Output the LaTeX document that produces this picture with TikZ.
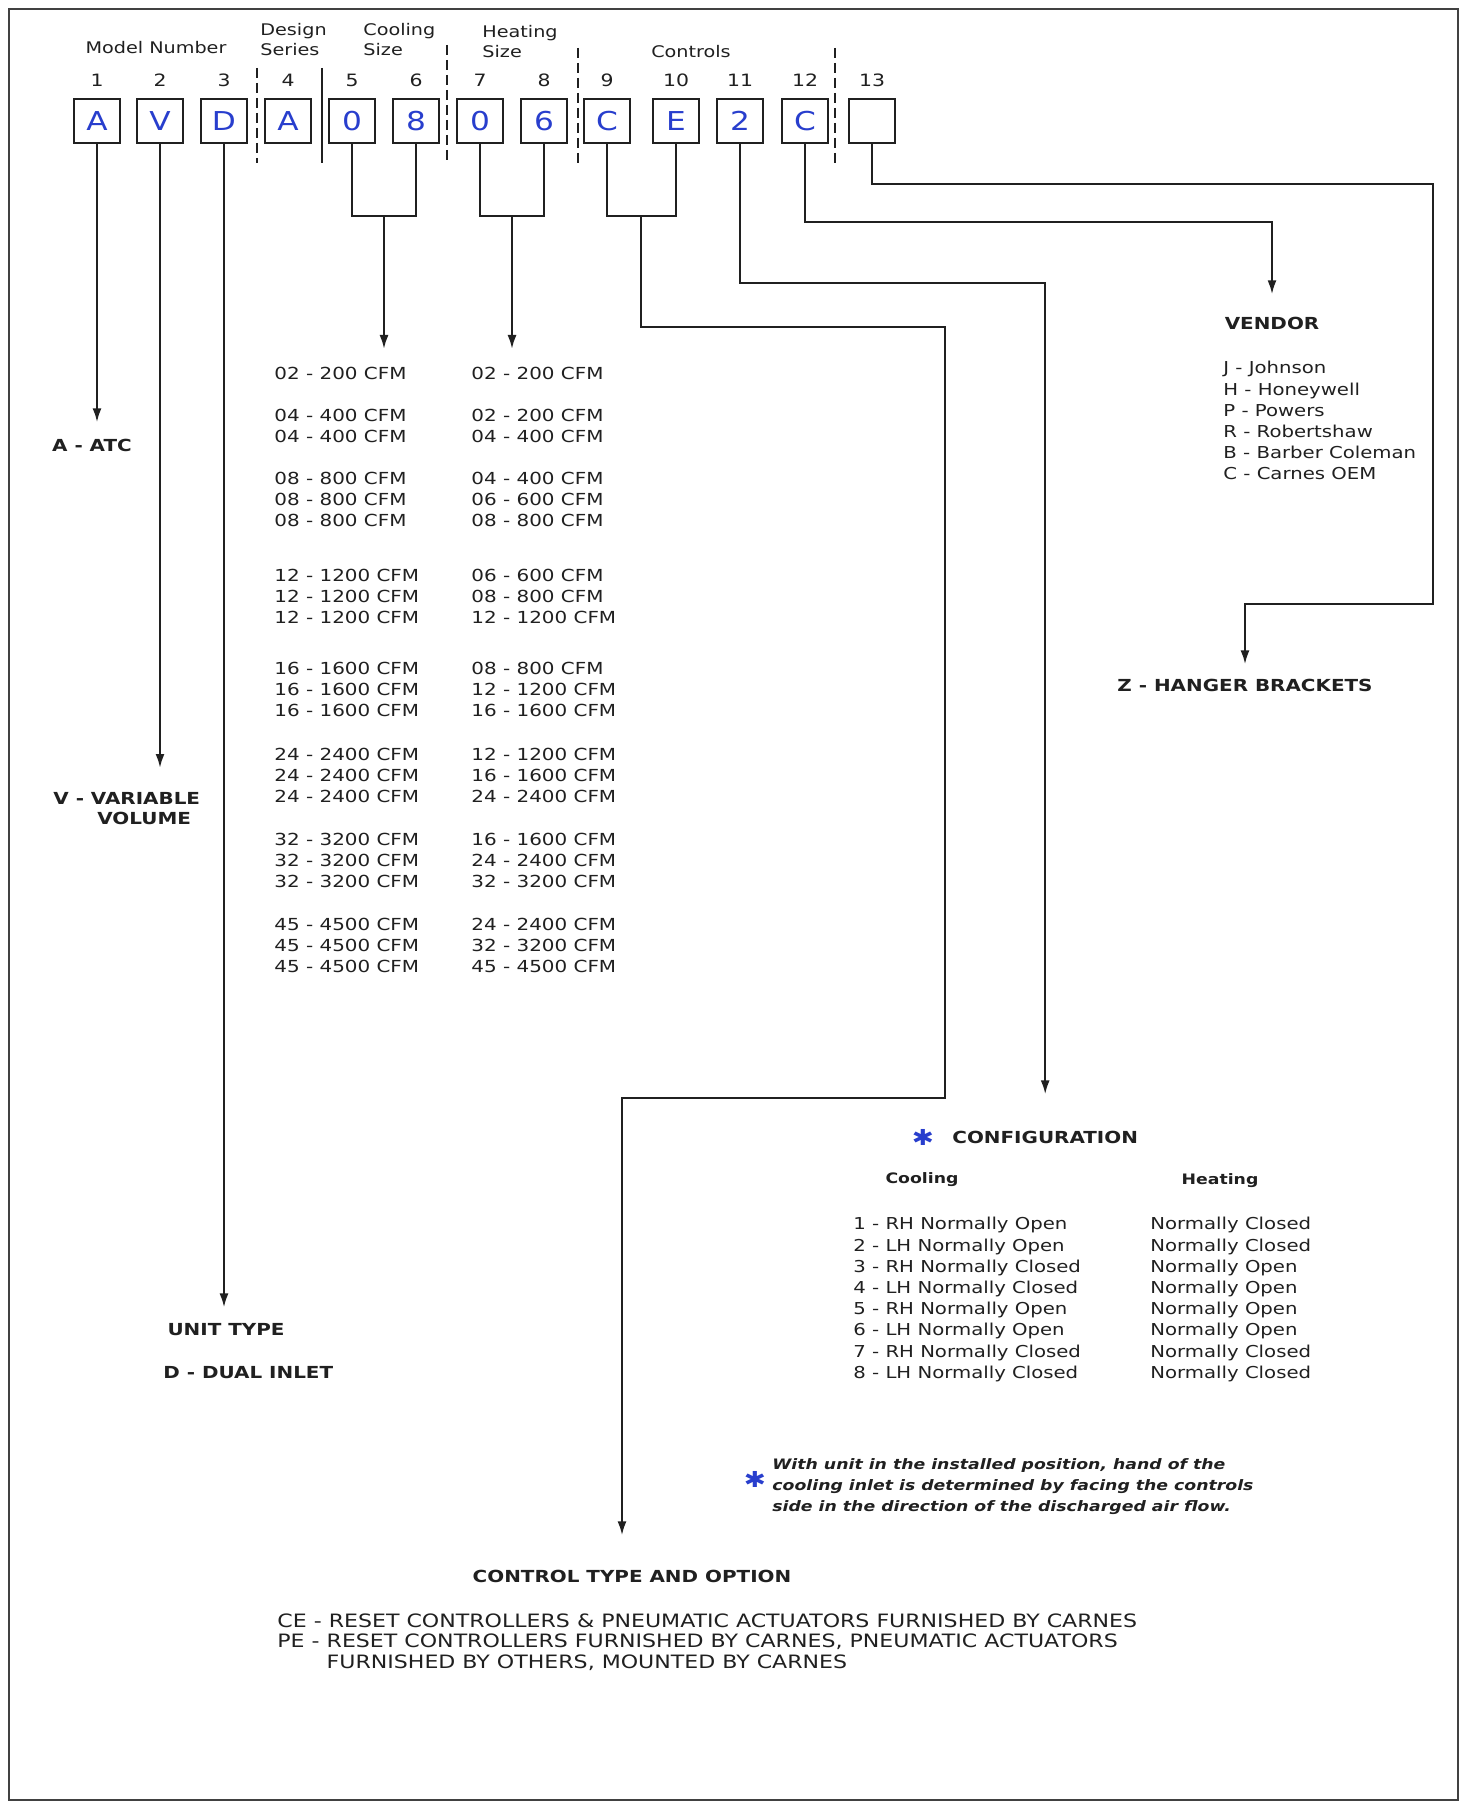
\documentclass[tikz,border=0pt]{standalone}
\usepackage{fontspec}
\setmainfont{DejaVu Sans}[FakeStretch=1.2]
\usetikzlibrary{arrows.meta}
\definecolor{ink}{RGB}{32,32,32}
\definecolor{codeblue}{RGB}{40,62,205}
\newcommand{\setsz}[2]{\fontsize{#1}{#2}\selectfont}

\begin{document}
\begin{tikzpicture}[
  x=0.5pt, y=-0.5pt,
  every node/.style={inner sep=0pt, text=ink},
  digit/.style={draw=ink, line width=1.2pt, minimum width=23pt, minimum height=22pt, text=codeblue, font=\setsz{13}{13}},
  num/.style={font=\setsz{8.5}{10}},
  head/.style={font=\setsz{8}{10}, align=left},
  lbl/.style={font=\bfseries\setsz{8.3}{10}},
  sub/.style={font=\bfseries\setsz{7.2}{9}},
  cfm/.style={font=\setsz{8.3}{10.5}, align=left},
  rows/.style={font=\setsz{8.2}{10.6}, align=left},
  note/.style={font=\bfseries\itshape\setsz{7.2}{10.5}, align=left},
  ctxt/.style={font=\setsz{9.2}{10.25}, align=left},
  star/.style={text=codeblue, font=\setsz{11}{11}},
  conn/.style={draw=ink, line width=1.1pt},
  arr/.style={conn, -{Latex[length=7pt,width=4.5pt]}},
  sep/.style={draw=ink, line width=1pt, dash pattern=on 5pt off 2.5pt}
]
\fill[white] (0,0) rectangle (1465,1807);
\useasboundingbox (0,0) rectangle (1465,1807);
\draw[line width=1.3pt, draw=ink!85] (9,9) rectangle (1458,1800);

% code boxes and position numbers
\foreach \x/\c [count=\i] in {97/A,160/V,224/D,288/A,352/0,416/8,480/0,544/6,607/C,676/E,740/2,805/C,872/{}}{
  \node[digit] (b\i) at (\x,121) {\c};
  \node[num] (n\i) at (\x,80) {\i};
}

% group headings
\node[head] (mnum) at (156,48) {Model Number};
\node[head, anchor=west] (dser) at (260,40) {Design\\Series};
\node[head, anchor=west] (csz) at (363,40) {Cooling\\Size};
\node[head, anchor=west] (hsz) at (482,42) {Heating\\Size};
\node[head] (ctrl) at (691,52) {Controls};

\draw[sep] (257,68) -- (257,163);
\draw[conn, line width=1.3pt] (322,68) -- (322,163);
\draw[sep] (447,45) -- (447,160);
\draw[sep] (578,48) -- (578,165);
\draw[sep] (835,48) -- (835,165);

% left labels
\node[lbl] (atc) at (92,445) {A - ATC};
\node[lbl, align=left, anchor=north west] (var) at (53,792) {V - VARIABLE\\\hspace*{22pt}VOLUME};
\node[lbl] (unit) at (226,1330) {UNIT TYPE};
\node[lbl, anchor=west] (dual) at (163,1373) {D - DUAL INLET};

% size tables
\node[cfm, anchor=north west] (cool) at (274,367) {02 - 200 CFM\\[10.5pt]
04 - 400 CFM\\04 - 400 CFM\\[10.5pt]
08 - 800 CFM\\08 - 800 CFM\\08 - 800 CFM\\[17pt]
12 - 1200 CFM\\12 - 1200 CFM\\12 - 1200 CFM\\[15pt]
16 - 1600 CFM\\16 - 1600 CFM\\16 - 1600 CFM\\[11.5pt]
24 - 2400 CFM\\24 - 2400 CFM\\24 - 2400 CFM\\[11pt]
32 - 3200 CFM\\32 - 3200 CFM\\32 - 3200 CFM\\[11pt]
45 - 4500 CFM\\45 - 4500 CFM\\45 - 4500 CFM};
\node[cfm, anchor=north west] (heat) at (471,367) {02 - 200 CFM\\[10.5pt]
02 - 200 CFM\\04 - 400 CFM\\[10.5pt]
04 - 400 CFM\\06 - 600 CFM\\08 - 800 CFM\\[17pt]
06 - 600 CFM\\08 - 800 CFM\\12 - 1200 CFM\\[15pt]
08 - 800 CFM\\12 - 1200 CFM\\16 - 1600 CFM\\[11.5pt]
12 - 1200 CFM\\16 - 1600 CFM\\24 - 2400 CFM\\[11pt]
16 - 1600 CFM\\24 - 2400 CFM\\32 - 3200 CFM\\[11pt]
24 - 2400 CFM\\32 - 3200 CFM\\45 - 4500 CFM};

% right side
\node[lbl] (vendor) at (1272,323) {VENDOR};
\node[rows, anchor=north west] (vlist) at (1223,361) {J - Johnson\\H - Honeywell\\P - Powers\\R - Robertshaw\\B - Barber Coleman\\C - Carnes OEM};
\node[lbl] (hanger) at (1245,685) {Z - HANGER BRACKETS};

\node[star] (cfgstar) at (923,1137) {✱};
\node[lbl, anchor=west] (cfg) at (952,1137) {CONFIGURATION};
\node[sub] (ccool) at (922,1180) {Cooling};
\node[sub] (cheat) at (1220,1181) {Heating};
\node[rows, anchor=north west] (crows) at (853,1217) {1 - RH Normally Open\\2 - LH Normally Open\\3 - RH Normally Closed\\4 - LH Normally Closed\\5 - RH Normally Open\\6 - LH Normally Open\\7 - RH Normally Closed\\8 - LH Normally Closed};
\node[rows, anchor=north west] (hrows) at (1150,1217) {Normally Closed\\Normally Closed\\Normally Open\\Normally Open\\Normally Open\\Normally Open\\Normally Closed\\Normally Closed};

\node[star] (nstar) at (755,1479) {✱};
\node[note, anchor=north west] (note) at (772,1458) {With unit in the installed position, hand of the\\cooling inlet is determined by facing the controls\\side in the direction of the discharged air flow.};

\node[lbl] (ctl) at (632,1576) {CONTROL TYPE AND OPTION};
\node[ctxt, anchor=north west] (cdesc) at (277,1613) {CE - RESET CONTROLLERS \& PNEUMATIC ACTUATORS FURNISHED BY CARNES\\PE - RESET CONTROLLERS FURNISHED BY CARNES, PNEUMATIC ACTUATORS\\\phantom{PE - }FURNISHED BY OTHERS, MOUNTED BY CARNES};

% connectors
\coordinate (cmid) at (384,216);
\coordinate (hmid) at (512,216);
\coordinate (ctmid) at (641,216);
\coordinate (ctk) at (622,1098);
\draw[arr, shorten >=8pt] (b1.south) -- (b1.south |- atc.north);
\draw[arr, shorten >=12pt] (b2.south) -- (b2.south |- var.north);
\draw[arr, shorten >=8pt] (b3.south) -- (b3.south |- unit.north);
\draw[conn] (b5.south) |- (cmid) -| (b6.south);
\draw[arr, shorten >=9pt] (cmid) -- (cmid |- cool.north);
\draw[conn] (b7.south) |- (hmid) -| (b8.south);
\draw[arr, shorten >=9pt] (hmid) -- (hmid |- heat.north);
\draw[conn] (b9.south) |- (ctmid) -| (b10.south);
\draw[arr, shorten >=17pt] (ctmid) |- (945,327) |- (ctk) -- (ctk |- ctl.north);
\draw[arr, shorten >=18pt] (b11.south) -- ++(0,139) -| (cfg.north);
\draw[arr, shorten >=11pt] (b12.south) -- ++(0,78) -| (vendor.north);
\draw[arr, shorten >=7pt] (b13.south) |- (1433,184) -- (1433,604) -| (hanger.north);
\end{tikzpicture}
\end{document}
